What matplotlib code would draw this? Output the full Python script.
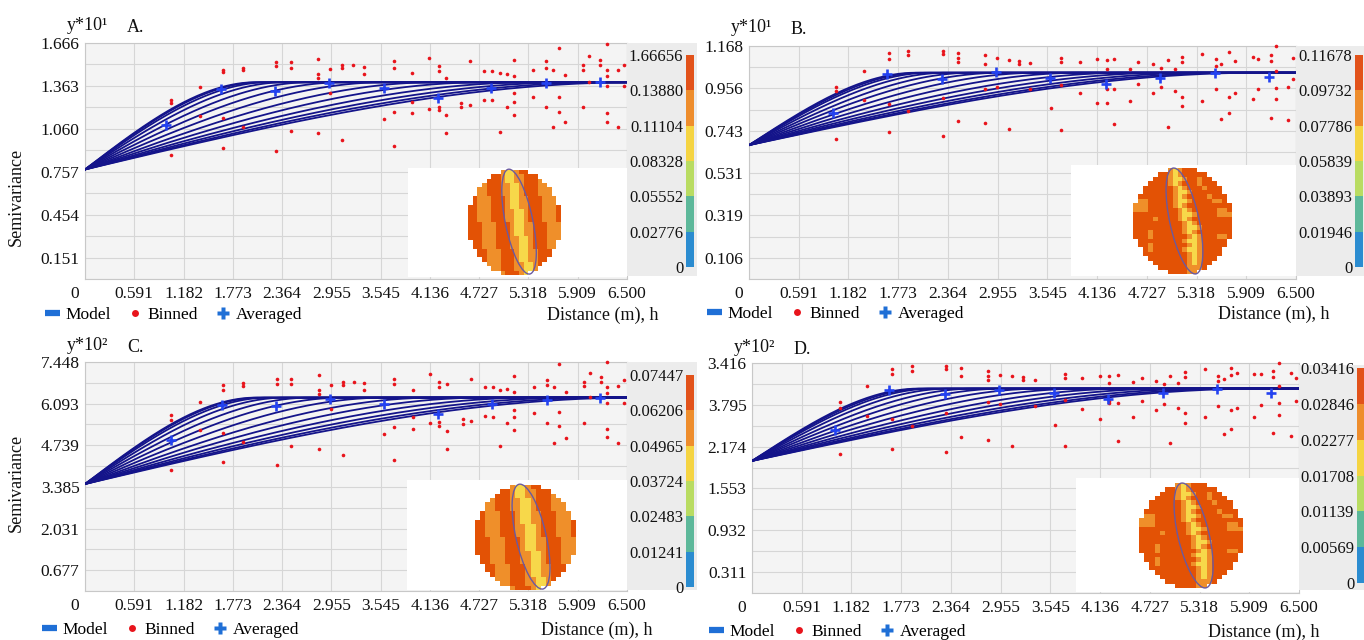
import numpy as np
import matplotlib
matplotlib.use("Agg")
import matplotlib.pyplot as plt
from matplotlib.colors import ListedColormap
from matplotlib.patches import Ellipse
from matplotlib.lines import Line2D

plt.rcParams["font.family"] = ["Liberation Serif", "DejaVu Serif"]

W, H = 1364, 640

# ---------------- data ----------------
x_ticks = [0, 0.591, 1.182, 1.773, 2.364, 2.955, 3.545, 4.136, 4.727, 5.318, 5.909, 6.500]
x_labels = ["0", "0.591", "1.182", "1.773", "2.364", "2.955", "3.545", "4.136",
            "4.727", "5.318", "5.909", "6.500"]

# panel A
a_yticks = [0.151, 0.454, 0.757, 1.060, 1.363, 1.666]
a_ylabels = ["0.151", "0.454", "0.757", "1.060", "1.363", "1.666"]
a_cbar_labels = ["0", "0.02776", "0.05552", "0.08328", "0.11104", "0.13880", "1.66656"]
a_nugget, a_sill = 0.773, 1.389
a_ranges = [2.05, 2.1, 2.2, 2.4, 2.7, 3.1, 3.6, 4.2, 4.8, 5.4, 5.9, 6.3, 6.6]
a_avg_x = [0.97, 1.63, 2.28, 2.93, 3.58, 4.23, 4.87, 5.53, 6.18]
a_avg_y = [1.086, 1.339, 1.330, 1.387, 1.346, 1.275, 1.346, 1.382, 1.394]
a_bin_x = [1.03, 1.38, 1.65, 1.89, 2.29, 2.47, 2.80, 2.94, 3.08, 3.21, 3.34, 3.58,
           3.71, 3.92, 4.12, 4.24, 4.33, 4.51, 4.62, 4.79, 4.88, 4.98, 5.06, 5.14,
           5.37, 5.53, 5.61, 5.68, 5.76, 5.97, 6.05, 6.18, 6.26, 6.39, 6.46]
a_bin_y = [[1.264, 1.24, 0.873], [1.353, 1.150], [1.477, 1.458, 0.925, 1.133],
           [1.49, 1.475, 1.074], [1.53, 1.505, 0.90], [1.53, 1.49, 1.043],
           [1.55, 1.45, 1.42, 1.027], [1.48, 1.31], [1.51, 1.49, 0.98], [1.51],
           [1.50, 1.45], [1.13], [1.536, 1.49, 1.18, 0.94], [1.453, 1.25, 1.17],
           [1.56, 1.20], [1.505, 1.465, 1.215, 1.19], [1.42, 1.157, 1.03],
           [1.24, 1.216], [1.536, 1.228], [1.465, 1.264], [1.465, 1.264],
           [1.453, 1.039], [1.448, 1.216], [1.547, 1.43, 1.31, 1.25, 1.157],
           [1.477, 1.287], [1.536, 1.49, 1.216], [1.477, 1.074], [1.63, 1.287, 1.18],
           [1.44, 1.11], [1.51, 1.477, 1.216], [1.571, 1.394], [1.547, 1.51],
           [1.66, 1.477, 1.43, 1.36, 1.17, 1.11], [1.477, 1.074], [1.51, 1.36]]

# panel B
b_yticks = [0.106, 0.319, 0.531, 0.743, 0.956, 1.168]
b_ylabels = ["0.106", "0.319", "0.531", "0.743", "0.956", "1.168"]
b_cbar_labels = ["0", "0.01946", "0.03893", "0.05839", "0.07786", "0.09732", "0.11678"]
b_nugget, b_sill = 0.671, 1.034
b_ranges = [1.98, 2.05, 2.15, 2.35, 2.65, 3.0, 3.45, 3.95, 4.5, 5.0, 5.45, 5.8, 6.05]
b_avg_x = [1.0, 1.64, 2.29, 2.93, 3.58, 4.24, 4.88, 5.54, 6.18]
b_avg_y = [0.833, 1.026, 1.001, 1.038, 1.009, 0.976, 1.009, 1.031, 1.014]
b_bin_x = [1.03, 1.37, 1.66, 1.89, 2.30, 2.48, 2.80, 2.95, 3.09, 3.21, 3.34, 3.59,
           3.71, 3.93, 4.14, 4.25, 4.34, 4.53, 4.62, 4.80, 4.89, 4.98, 5.06, 5.15,
           5.38, 5.55, 5.61, 5.70, 5.77, 5.99, 6.05, 6.20, 6.26, 6.40, 6.47]
b_bin_y = [[0.964, 0.942, 0.703], [1.043, 0.895], [1.131, 1.104, 0.875, 0.737],
           [1.143, 1.121, 0.842], [1.143, 1.126, 0.909, 0.716], [1.135, 1.109, 1.088, 0.792],
           [1.121, 1.076, 0.95, 0.780], [1.109, 0.964], [1.096, 0.753], [1.093, 1.076],
           [1.081, 0.95], [0.859], [1.109, 1.088, 0.971, 0.746], [1.088, 0.934],
           [1.101, 0.880], [1.098, 1.054, 0.954, 0.884], [1.104, 0.950, 0.775],
           [1.054, 0.892], [1.088, 0.976], [1.076, 0.930], [1.059, 0.964],
           [1.098, 0.763], [1.051, 0.942], [1.114, 1.088, 0.914, 0.867],
           [1.126, 0.892], [1.101, 1.068, 0.954], [1.076, 0.804], [1.138, 0.914, 0.833],
           [1.093, 0.934], [1.114, 0.904], [1.104, 0.954], [1.121, 1.093, 0.808],
           [1.166, 1.043, 0.959, 0.904], [0.964, 0.797], [1.109, 1.001]]

# panel C
c_yticks = [0.677, 2.031, 3.385, 4.739, 6.093, 7.448]
c_ylabels = ["0.677", "2.031", "3.385", "4.739", "6.093", "7.448"]
c_cbar_labels = ["0", "0.01241", "0.02483", "0.03724", "0.04965", "0.06206", "0.07447"]
c_nugget, c_sill = 3.48, 6.29
c_ranges = [2.05, 2.1, 2.2, 2.4, 2.7, 3.1, 3.6, 4.2, 4.8, 5.4, 5.9, 6.3, 6.6]
c_avg_x = [1.03, 1.64, 2.29, 2.94, 3.59, 4.23, 4.88, 5.54, 6.18]
c_avg_y = [4.92, 6.04, 6.01, 6.26, 6.09, 5.75, 6.09, 6.22, 6.29]
c_bin_x = [1.03, 1.38, 1.65, 1.89, 2.30, 2.47, 2.81, 2.95, 3.09, 3.23, 3.35, 3.59,
           3.71, 3.93, 4.14, 4.24, 4.34, 4.53, 4.63, 4.80, 4.89, 4.98, 5.06, 5.14,
           5.38, 5.54, 5.62, 5.69, 5.77, 5.98, 6.06, 6.19, 6.26, 6.39, 6.46]
c_bin_y = [[5.71, 5.57, 3.93], [6.15, 5.23], [6.69, 6.55, 5.14, 4.20], [6.77, 6.66, 4.85],
           [6.91, 6.74, 4.09], [6.91, 6.74, 4.71], [7.01, 6.53, 6.40, 4.63], [6.69, 5.93],
           [6.80, 6.69, 4.41], [6.80], [6.77, 6.53], [5.12], [6.91, 6.74, 5.34, 4.25],
           [6.55, 5.66, 5.28], [7.05, 5.47], [6.80, 6.64, 5.50, 5.36], [6.74, 5.20, 4.63],
           [5.58, 5.44], [6.91, 5.53], [6.64, 5.68], [6.64, 5.66], [6.53, 4.71],
           [6.58, 5.47], [6.98, 6.48, 5.90, 5.66, 5.23], [6.64, 5.79], [6.87, 6.69, 5.47],
           [6.64, 4.82], [7.37, 5.82, 5.36], [6.48, 4.99], [6.80, 6.66, 5.47], [7.09, 6.31],
           [6.96, 6.80], [7.44, 6.64, 6.44, 6.11, 5.28, 5.01], [6.66, 4.82], [6.85, 6.11]]

# panel D
d_yticks = [0.311, 0.932, 1.553, 2.174, 2.795, 3.416]
d_ylabels = ["0.311", "0.932", "1.553", "2.174", "3.795", "3.416"]
d_cbar_labels = ["0", "0.00569", "0.01139", "0.01708", "0.02277", "0.02846", "0.03416"]
d_nugget, d_sill = 1.962, 3.036
d_ranges = [1.98, 2.05, 2.15, 2.35, 2.65, 3.0, 3.45, 3.95, 4.5, 5.0, 5.45, 5.8, 6.05]
d_avg_x = [0.99, 1.63, 2.29, 2.93, 3.59, 4.23, 4.88, 5.53, 6.17]
d_avg_y = [2.42, 3.01, 2.95, 3.02, 2.97, 2.88, 2.97, 3.03, 2.97]
d_bin_x = [1.04, 1.37, 1.66, 1.90, 2.30, 2.48, 2.80, 2.95, 3.09, 3.22, 3.36, 3.60,
           3.72, 3.92, 4.13, 4.24, 4.35, 4.53, 4.63, 4.80, 4.90, 4.97, 5.06, 5.14,
           5.38, 5.54, 5.61, 5.69, 5.76, 5.97, 6.05, 6.19, 6.26, 6.40, 6.46]
d_bin_y = [[2.83, 2.75, 2.06], [3.07, 2.63], [3.33, 3.26, 2.58, 2.14], [3.37, 3.29, 2.48],
           [3.37, 3.33, 2.67, 2.09], [3.34, 3.22, 2.31], [3.29, 3.22, 3.16, 2.83, 2.27],
           [3.24, 2.80], [3.22, 2.19], [3.21, 3.16], [3.17, 2.78], [2.50],
           [3.26, 3.19, 2.87, 2.18], [3.19, 2.73], [3.22, 2.59], [3.23, 3.12, 2.85, 2.82],
           [3.24, 2.82, 2.26], [3.13, 2.62], [3.19, 2.85], [3.15, 2.72], [3.11, 2.80],
           [3.22, 2.23], [3.12, 2.75], [3.28, 3.21, 2.68, 2.53], [3.32, 2.62],
           [3.23, 3.15, 2.77], [3.18, 2.36], [3.34, 3.24, 2.72, 2.43], [3.27, 2.75],
           [3.26, 2.62], [3.26, 2.79], [3.29, 3.21, 2.37], [3.41, 3.08, 2.82, 2.64],
           [3.27, 2.33], [3.19, 2.85]]

# inset surface maps (Y yellow, O orange, R red, . outside)
stripe_map = [
    ".......OYYORR.......",
    ".....RROYYOORRR.....",
    "....RRROYYOORRRO....",
    "...ORRROOYYORRROO...",
    "..OORRROOYYORRROOO..",
    "..OORRROOYYORRROOO..",
    ".ROOORRROYYOORRROOO.",
    ".ROOORRROYYOORRROOO.",
    "RROOORRROYYOORRROOOR",
    "RROOORRROOYYORRROOOR",
    "RROOORRROOYYORRROOOR",
    "RROOORRROOYYORRROOOR",
    "RRROOORRROYYOORRROOO",
    "RRROOORRROYYOORRROOO",
    "RRROOORRROYYOORRROOO",
    "RRROOORRROOYYORRROOO",
    ".RROOORRROOYYORRROO.",
    ".RROOORRROOYYORRROO.",
    "..RROOORRROYYOORRR..",
    "..RROOORRROYYOORRR..",
    "...ROOORRROYYOORR...",
    "....OOORRROOYYOR....",
    ".....OORRROOYYO.....",
    ".......ORRROY.......",
]
streak_map = [
    ".......OYORRR.......",
    ".....RROYORRRRR.....",
    "....RRROYYORRORR....",
    "...RRRROYORRRORRR...",
    "..RRRRRROYORRRORRR..",
    "..RRRRRROYYORRRRRR..",
    ".RRRRRRROYORRRRORRR.",
    ".OORRRRROYYORRRROOR.",
    "OOORRRRROYORRRRRRRRR",
    "OOORRRRRROYORRRRROOR",
    "RRRRRRRRROYYORRRROOO",
    "RRRRORRRROYORRRRRRRR",
    "RRRRRRRRRROYORRRRRRR",
    "RRRRRRRRRROYYORRRRRR",
    "RRRORRRRRROYORRRRRRR",
    "RRRORRRRRRROYORRROOR",
    ".RRRRRRRRROYYORRRRR.",
    ".RRORRRRRRROYORRRRR.",
    "..RORRRRRROYYORRRR..",
    "..RRRRRRRRROYORRRR..",
    "...RRRRRRRROYORRR...",
    "....RRRRRRROYORR....",
    ".....RRRRRROOOR.....",
    ".......RRRROO.......",
]

cbar_colors = ["#2b8cd0", "#5db89a", "#b9dc62", "#f5d442", "#ee8d2c", "#e2521a"]
map_colors = ["#f7d84a", "#ef8f2a", "#e35205"]

panels = [
    dict(name="A.", power="y*10\u00b9", yt=a_yticks, yl=a_ylabels, cb=a_cbar_labels,
         nug=a_nugget, sill=a_sill, rng=a_ranges, ax_=a_avg_x, ay=a_avg_y,
         bx=a_bin_x, by=a_bin_y, surf=stripe_map, ylabel=True,
         box=(85, 43, 627, 279), strip=(627, 43, 697, 276), cbar=(686, 55, 694, 267),
         white=(408, 168, 627, 277), disk=(468, 170, 560, 275), ell=(10.6, 11.3),
         title_y=25, leg=(45, 315), dist=(547, 315), ylab_y=197),
    dict(name="B.", power="y*10\u00b9", yt=b_yticks, yl=b_ylabels, cb=b_cbar_labels,
         nug=b_nugget, sill=b_sill, rng=b_ranges, ax_=b_avg_x, ay=b_avg_y,
         bx=b_bin_x, by=b_bin_y, surf=streak_map, ylabel=False,
         box=(749, 46, 1296, 279), strip=(1296, 46, 1364, 276), cbar=(1355, 55, 1363, 267),
         white=(1071, 165, 1296, 276), disk=(1133, 168, 1231, 274), ell=(10.0, 11.5),
         title_y=27, leg=(707, 314), dist=(1218, 314), ylab_y=0),
    dict(name="C.", power="y*10\u00b2", yt=c_yticks, yl=c_ylabels, cb=c_cbar_labels,
         nug=c_nugget, sill=c_sill, rng=c_ranges, ax_=c_avg_x, ay=c_avg_y,
         bx=c_bin_x, by=c_bin_y, surf=stripe_map, ylabel=True,
         box=(85, 362, 627, 591), strip=(627, 362, 697, 590), cbar=(686, 375, 694, 587),
         white=(407, 480, 627, 590), disk=(475, 485, 576, 590), ell=(10.6, 11.3),
         title_y=345, leg=(42, 630), dist=(541, 630), ylab_y=483),
    dict(name="D.", power="y*10\u00b2", yt=d_yticks, yl=d_ylabels, cb=d_cbar_labels,
         nug=d_nugget, sill=d_sill, rng=d_ranges, ax_=d_avg_x, ay=d_avg_y,
         bx=d_bin_x, by=d_bin_y, surf=streak_map, ylabel=False,
         box=(752, 363, 1299, 593), strip=(1299, 365, 1364, 590), cbar=(1357, 368, 1364, 583),
         white=(1076, 478, 1299, 592), disk=(1139, 483, 1243, 588), ell=(10.0, 11.5),
         title_y=347, leg=(709, 632), dist=(1208, 632), ylab_y=0),
]

fig = plt.figure(figsize=(W / 100, H / 100), dpi=100)
fig.patch.set_facecolor("white")


def px_axes(x0, y0, x1, y1):
    return fig.add_axes([x0 / W, 1 - y1 / H, (x1 - x0) / W, (y1 - y0) / H])


def blank(a, color):
    a.set_facecolor(color)
    a.set_xticks([])
    a.set_yticks([])
    for s in a.spines.values():
        s.set_visible(False)


def spherical(h, nugget, sill, a):
    r = np.minimum(h / a, 1.0)
    return nugget + (sill - nugget) * (1.5 * r - 0.5 * r ** 3)


h = np.linspace(0, 6.5, 300)
code = {"Y": 0, "O": 1, "R": 2, ".": -1}
cmap_surf = ListedColormap(map_colors)

for p in panels:
    x0, y0, x1, y1 = p["box"]
    ax = px_axes(x0, y0, x1, y1)
    ax.set_facecolor("#f4f4f4")
    top = p["yt"][-1]
    ax.set_xlim(0, 6.5)
    ax.set_ylim(0, top)
    ax.set_xticks(x_ticks[1:])
    ax.set_xticklabels(x_labels[1:])
    ax.set_xticks([0], minor=True)
    step = p["yt"][1] - p["yt"][0]
    ax.set_yticks(p["yt"])
    ax.set_yticklabels(p["yl"])
    ax.set_yticks([t - step / 2 for t in p["yt"]], minor=True)
    ax.grid(which="both", color="#d6d6d6", lw=0.8)
    ax.set_axisbelow(True)
    ax.tick_params(which="both", length=0, labelsize=12.5, colors="#111111")
    ax.tick_params(axis="x", pad=5)
    ax.tick_params(axis="y", pad=4)
    for s in ax.spines.values():
        s.set_color("#c8c8c8")
        s.set_linewidth(0.8)
    ax.annotate("0", xy=(0, 0), xycoords="data", xytext=(-7.5, -5), textcoords="offset points",
                ha="center", va="top", fontsize=12.5, color="#111111")

    for a in p["rng"]:
        ax.plot(h, spherical(h, p["nug"], p["sill"], a), color="#14148a", lw=1.3, zorder=3)
    bx = [x for x, ys in zip(p["bx"], p["by"]) for _ in ys]
    by = [y for ys in p["by"] for y in ys]
    ax.plot(bx, by, ls="none", marker="o", ms=2.6, color="#e8141c", mec="none", zorder=4,
            clip_on=False)
    ax.plot(p["ax_"], p["ay"], ls="none", marker="+", ms=7, mew=1.9, color="#2342f0", zorder=5)

    # title and axis texts
    fig.text((x0 - 18) / W, 1 - p["title_y"] / H, p["power"], ha="left", va="center",
             fontsize=13, color="#111111")
    fig.text((x0 + 42) / W, 1 - (p["title_y"] + 2) / H, p["name"], ha="left", va="center",
             fontsize=13, color="#111111")
    if p["ylabel"]:
        fig.text(16 / W, 1 - p["ylab_y"] / H, "Semivariance", rotation=90, ha="center",
                 va="center", fontsize=13, color="#111111")
    fig.text(p["dist"][0] / W, 1 - p["dist"][1] / H, "Distance (m), h", ha="left",
             va="center", fontsize=13, color="#111111")

    handles = [Line2D([], [], color="#1f6fd6", lw=4.5, solid_capstyle="butt"),
               Line2D([], [], ls="none", marker="o", ms=5, color="#e8141c", mec="none"),
               Line2D([], [], ls="none", marker="P", ms=8, color="#1f6fd6", mec="none")]
    fig.legend(handles, ["Model", "Binned", "Averaged"], loc="center left",
               bbox_to_anchor=(p["leg"][0] / W, 1 - p["leg"][1] / H), ncol=3,
               frameon=False, fontsize=12.5, handlelength=0.85, handletextpad=0.3,
               columnspacing=1.0, borderpad=0, borderaxespad=0)

    # inset map
    wax = px_axes(*p["white"])
    blank(wax, "white")
    dax = px_axes(*p["disk"])
    grid = np.array([[code[ch] for ch in row.ljust(20, ".")[:20]] for row in p["surf"]])
    img = np.ma.masked_less(grid, 0)
    dax.imshow(img, cmap=cmap_surf, vmin=-0.5, vmax=2.5, interpolation="nearest",
               aspect="auto")
    dax.add_patch(Ellipse(p["ell"], width=6.0, height=24.4, angle=-11, fill=False,
                          edgecolor="#6a5aa0", lw=1.0, clip_on=False))
    dax.axis("off")

    # grey strip with colour scale
    strip = px_axes(*p["strip"])
    blank(strip, "#ececec")
    cax = px_axes(*p["cbar"])
    for i, c in enumerate(cbar_colors):
        cax.bar(0.5, 1, bottom=i, width=1, color=c, linewidth=0)
    cax.set_xlim(0, 1)
    cax.set_ylim(0, len(cbar_colors))
    cax.set_xticks([])
    cax.set_yticks(range(len(p["cb"])))
    cax.set_yticklabels(p["cb"])
    cax.tick_params(axis="y", length=0, pad=2, labelsize=12, colors="#111111")
    for s in cax.spines.values():
        s.set_visible(False)

fig.savefig("out.png", dpi=100, facecolor="white")
